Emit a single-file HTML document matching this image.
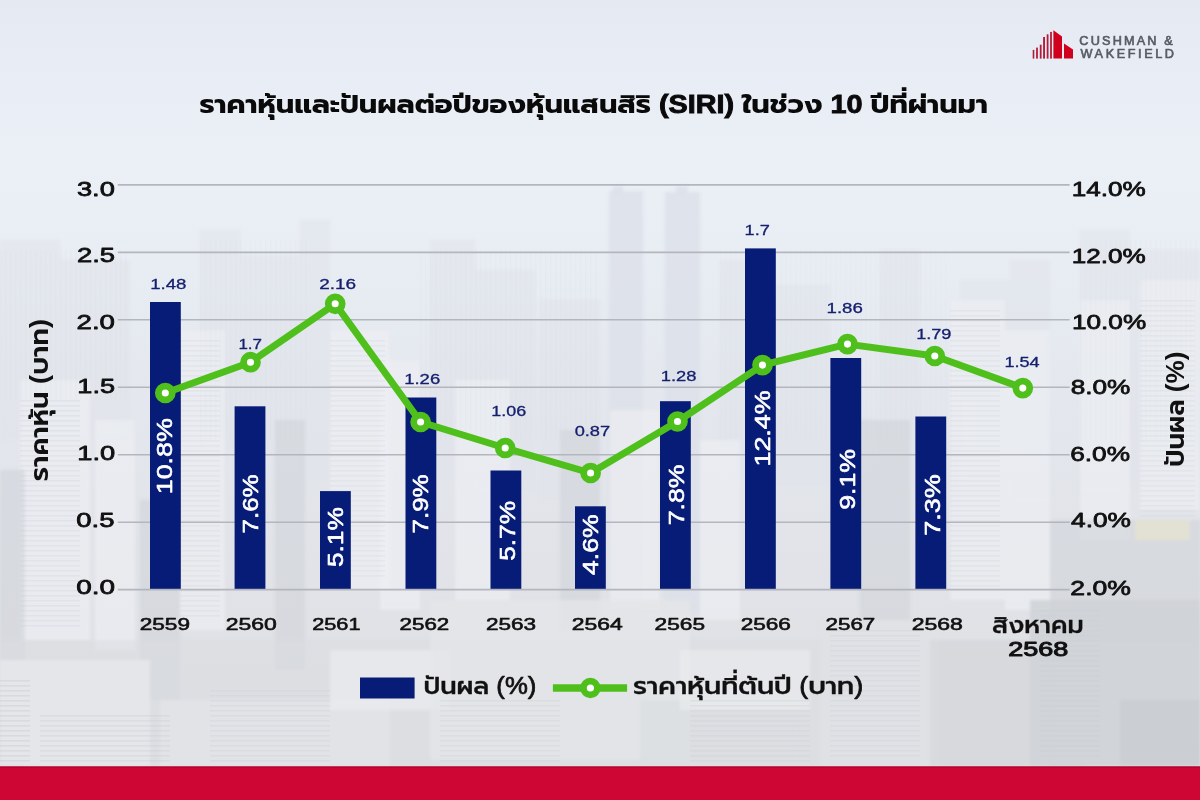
<!DOCTYPE html>
<html><head><meta charset="utf-8"><title>SIRI</title><style>html,body{margin:0;padding:0;width:1200px;height:800px;overflow:hidden;background:#e8ebf0}svg{display:block}</style></head>
<body><svg width="1200" height="800" viewBox="0 0 1200 800">
<defs>
<linearGradient id="sky" x1="0" y1="0" x2="0" y2="1">
<stop offset="0" stop-color="#e5eaf2"/>
<stop offset="0.08" stop-color="#e8ecf4"/>
<stop offset="0.2" stop-color="#ebeff6"/>
<stop offset="0.3" stop-color="#e9edf4"/>
<stop offset="0.4" stop-color="#e6eaf1"/>
<stop offset="0.55" stop-color="#e3e6ec"/>
<stop offset="0.7" stop-color="#e1e3e8"/>
<stop offset="0.85" stop-color="#dfe1e5"/>
<stop offset="1" stop-color="#dddfe3"/>
</linearGradient>
<filter id="bl" x="-5%" y="-5%" width="110%" height="110%"><feGaussianBlur stdDeviation="1.6"/></filter>
<pattern id="win" width="6" height="5" patternUnits="userSpaceOnUse"><rect width="6" height="1.6" fill="#c9ccd2"/></pattern>
<pattern id="vwin" width="5" height="6" patternUnits="userSpaceOnUse"><rect width="1.4" height="6" fill="#cfd2d8"/></pattern>
<filter id="bl3" x="-5%" y="-5%" width="110%" height="110%"><feGaussianBlur stdDeviation="0.7"/></filter>
<filter id="bl2" x="-5%" y="-5%" width="110%" height="110%"><feGaussianBlur stdDeviation="6"/></filter>
</defs>
<rect width="1200" height="800" fill="url(#sky)"/>
<g filter="url(#bl)"><rect x="609" y="191" width="34" height="420" fill="#dce0e8" opacity="0.8"/><rect x="665" y="192" width="35" height="420" fill="#dce0e8" opacity="0.8"/><rect x="613" y="186" width="10" height="8" fill="#dce0e8" opacity="0.8"/><rect x="676" y="186" width="12" height="8" fill="#dce0e8" opacity="0.8"/><rect x="0" y="240" width="60" height="200" fill="#dfe3ea" opacity="0.5"/><rect x="60" y="260" width="70" height="180" fill="#dfe3ea" opacity="0.5"/><rect x="200" y="230" width="40" height="220" fill="#dfe3ea" opacity="0.5"/><rect x="240" y="255" width="60" height="200" fill="#dfe3ea" opacity="0.5"/><rect x="300" y="220" width="30" height="260" fill="#dfe3ea" opacity="0.5"/><rect x="430" y="240" width="45" height="240" fill="#dfe3ea" opacity="0.5"/><rect x="475" y="270" width="60" height="220" fill="#dfe3ea" opacity="0.5"/><rect x="540" y="300" width="60" height="200" fill="#dfe3ea" opacity="0.5"/><rect x="720" y="260" width="40" height="220" fill="#dfe3ea" opacity="0.5"/><rect x="770" y="285" width="60" height="200" fill="#dfe3ea" opacity="0.5"/><rect x="880" y="250" width="40" height="240" fill="#dfe3ea" opacity="0.5"/><rect x="960" y="280" width="50" height="200" fill="#dfe3ea" opacity="0.5"/><rect x="1010" y="260" width="40" height="240" fill="#dfe3ea" opacity="0.5"/><rect x="1080" y="230" width="50" height="260" fill="#dfe3ea" opacity="0.5"/><rect x="1130" y="250" width="70" height="240" fill="#dfe3ea" opacity="0.5"/><rect x="20" y="380" width="70" height="260" fill="#eceef2" opacity="0.7"/><rect x="95" y="420" width="40" height="230" fill="#eceef2" opacity="0.7"/><rect x="180" y="330" width="45" height="300" fill="#eceef2" opacity="0.7"/><rect x="330" y="330" width="60" height="260" fill="#eceef2" opacity="0.7"/><rect x="380" y="360" width="40" height="250" fill="#eceef2" opacity="0.7"/><rect x="455" y="380" width="55" height="220" fill="#eceef2" opacity="0.7"/><rect x="610" y="410" width="50" height="200" fill="#eceef2" opacity="0.7"/><rect x="700" y="440" width="40" height="180" fill="#eceef2" opacity="0.7"/><rect x="950" y="300" width="55" height="300" fill="#eceef2" opacity="0.7"/><rect x="1005" y="330" width="45" height="280" fill="#eceef2" opacity="0.7"/><rect x="1080" y="300" width="50" height="240" fill="#eceef2" opacity="0.7"/><rect x="1140" y="280" width="60" height="230" fill="#eceef2" opacity="0.7"/><rect x="0" y="470" width="25" height="300" fill="#d3d6db" opacity="0.7"/><rect x="140" y="500" width="40" height="200" fill="#d3d6db" opacity="0.7"/><rect x="275" y="420" width="30" height="250" fill="#d3d6db" opacity="0.7"/><rect x="560" y="430" width="40" height="200" fill="#d3d6db" opacity="0.7"/><rect x="860" y="420" width="50" height="200" fill="#d3d6db" opacity="0.7"/><rect x="1050" y="520" width="35" height="250" fill="#d3d6db" opacity="0.7"/><rect x="1085" y="520" width="115" height="245" fill="#d3d6db" opacity="0.7"/><rect x="0" y="640" width="1200" height="126" fill="#d9dbdf" opacity="0.5"/><rect x="0" y="660" width="150" height="106" fill="#e6e7ea" opacity="0.85"/><rect x="160" y="700" width="230" height="66" fill="#e3e4e7" opacity="0.85"/><rect x="330" y="650" width="120" height="60" fill="#e9eaec" opacity="0.85"/><rect x="430" y="600" width="260" height="160" fill="#e4e5e8" opacity="0.85"/><rect x="640" y="700" width="160" height="66" fill="#dcdee1" opacity="0.85"/><rect x="680" y="650" width="130" height="60" fill="#e8e9eb" opacity="0.85"/><rect x="820" y="620" width="120" height="146" fill="#e0e2e5" opacity="0.85"/><rect x="930" y="640" width="100" height="126" fill="#d6d8dc" opacity="0.85"/><rect x="1030" y="600" width="170" height="166" fill="#cfd2d6" opacity="0.85"/><rect x="1120" y="700" width="80" height="66" fill="#c9ccd0" opacity="0.85"/><rect x="1135" y="520" width="55" height="20" fill="#e6e2cf" opacity="0.7"/></g>
<g filter="url(#bl3)"><rect x="0" y="680" width="30" height="85" fill="url(#win)" opacity="0.45"/><rect x="40" y="715" width="130" height="50" fill="url(#win)" opacity="0.35"/><rect x="210" y="690" width="120" height="75" fill="url(#win)" opacity="0.3"/><rect x="440" y="700" width="120" height="65" fill="url(#win)" opacity="0.3"/><rect x="690" y="700" width="120" height="65" fill="url(#win)" opacity="0.3"/><rect x="20" y="400" width="60" height="230" fill="url(#win)" opacity="0.25"/><rect x="180" y="340" width="40" height="280" fill="url(#win)" opacity="0.22"/><rect x="330" y="340" width="55" height="240" fill="url(#win)" opacity="0.2"/><rect x="950" y="310" width="50" height="280" fill="url(#win)" opacity="0.22"/><rect x="1140" y="300" width="55" height="220" fill="url(#win)" opacity="0.2"/><rect x="830" y="630" width="90" height="130" fill="url(#win)" opacity="0.25"/><rect x="1040" y="610" width="60" height="150" fill="url(#win)" opacity="0.25"/><rect x="0" y="250" width="130" height="150" fill="url(#vwin)" opacity="0.09"/><rect x="200" y="240" width="110" height="200" fill="url(#vwin)" opacity="0.07"/><rect x="420" y="250" width="180" height="190" fill="url(#vwin)" opacity="0.07"/><rect x="720" y="250" width="230" height="190" fill="url(#vwin)" opacity="0.06"/><rect x="1080" y="240" width="120" height="200" fill="url(#vwin)" opacity="0.08"/></g>
<line x1="117.8" y1="589.6" x2="1069.6" y2="589.6" stroke="#b3b6bd" stroke-width="1.6"/>
<line x1="117.8" y1="522.2" x2="1069.6" y2="522.2" stroke="#b3b6bd" stroke-width="1.6"/>
<line x1="117.8" y1="454.7" x2="1069.6" y2="454.7" stroke="#b3b6bd" stroke-width="1.6"/>
<line x1="117.8" y1="387.3" x2="1069.6" y2="387.3" stroke="#b3b6bd" stroke-width="1.6"/>
<line x1="117.8" y1="319.8" x2="1069.6" y2="319.8" stroke="#b3b6bd" stroke-width="1.6"/>
<line x1="117.8" y1="252.4" x2="1069.6" y2="252.4" stroke="#b3b6bd" stroke-width="1.6"/>
<line x1="117.8" y1="184.9" x2="1069.6" y2="184.9" stroke="#b3b6bd" stroke-width="1.6"/>
<rect x="150.0" y="302.0" width="30.8" height="286.8" fill="#071c76"/>
<rect x="234.6" y="406.3" width="30.8" height="182.5" fill="#071c76"/>
<rect x="320.0" y="491.1" width="30.8" height="97.7" fill="#071c76"/>
<rect x="405.5" y="397.5" width="30.8" height="191.3" fill="#071c76"/>
<rect x="490.5" y="470.5" width="30.8" height="118.3" fill="#071c76"/>
<rect x="575.0" y="506.3" width="30.8" height="82.5" fill="#071c76"/>
<rect x="660.0" y="401.2" width="30.8" height="187.6" fill="#071c76"/>
<rect x="745.0" y="248.4" width="30.8" height="340.4" fill="#071c76"/>
<rect x="830.4" y="358.0" width="30.8" height="230.8" fill="#071c76"/>
<rect x="915.4" y="416.5" width="30.8" height="172.3" fill="#071c76"/>
<polyline points="165.3,393.0 250.5,362.2 335.2,303.8 420.6,422.0 505.2,448.0 590.6,473.0 677.5,421.5 762.5,365.1 847.5,344.1 934.8,356.0 1022.8,388.1" fill="none" stroke="#4fbf1c" stroke-width="7" stroke-linejoin="round"/>
<circle cx="165.3" cy="393.0" r="6.95" fill="#fff" stroke="#4fbf1c" stroke-width="6.8"/>
<circle cx="250.5" cy="362.2" r="6.95" fill="#fff" stroke="#4fbf1c" stroke-width="6.8"/>
<circle cx="335.2" cy="303.8" r="6.95" fill="#fff" stroke="#4fbf1c" stroke-width="6.8"/>
<circle cx="420.6" cy="422.0" r="6.95" fill="#fff" stroke="#4fbf1c" stroke-width="6.8"/>
<circle cx="505.2" cy="448.0" r="6.95" fill="#fff" stroke="#4fbf1c" stroke-width="6.8"/>
<circle cx="590.6" cy="473.0" r="6.95" fill="#fff" stroke="#4fbf1c" stroke-width="6.8"/>
<circle cx="677.5" cy="421.5" r="6.95" fill="#fff" stroke="#4fbf1c" stroke-width="6.8"/>
<circle cx="762.5" cy="365.1" r="6.95" fill="#fff" stroke="#4fbf1c" stroke-width="6.8"/>
<circle cx="847.5" cy="344.1" r="6.95" fill="#fff" stroke="#4fbf1c" stroke-width="6.8"/>
<circle cx="934.8" cy="356.0" r="6.95" fill="#fff" stroke="#4fbf1c" stroke-width="6.8"/>
<circle cx="1022.8" cy="388.1" r="6.95" fill="#fff" stroke="#4fbf1c" stroke-width="6.8"/>
<rect x="360" y="677.5" width="54.6" height="21" fill="#071c76"/>
<line x1="552.9" y1="688" x2="627.1" y2="688" stroke="#4fbf1c" stroke-width="7.5"/>
<circle cx="590.4" cy="688" r="6.9" fill="#fff" stroke="#4fbf1c" stroke-width="6.6"/>
<rect x="0" y="766.5" width="1200" height="33.5" fill="#cd0633"/><rect x="0" y="766.5" width="1200" height="1.2" fill="#b0052e"/>
<g fill="#b31c3a">
<rect x="1032.7" y="49.9" width="1.6" height="8.7"/><rect x="1036.1" y="47.6" width="1.8" height="11"/>
<rect x="1039.8" y="44.7" width="1.8" height="13.9"/><rect x="1043.1" y="37.0" width="1.9" height="21.6"/>
<rect x="1046.7" y="34.3" width="1.8" height="24.3"/><rect x="1050.1" y="31.9" width="1.8" height="26.7"/></g>
<g fill="#d1001f"><polygon points="1053.4,30.3 1062,36.6 1062,58.6 1053.4,58.6"/><polygon points="1064,43.6 1073,49.4 1073,58.6 1064,58.6"/></g>
<text x="150.20" y="288.78" font-size="14.30" font-weight="400" fill="#16206e" font-family="Liberation Sans, Arial, sans-serif" stroke="#16206e" stroke-width="0.3" stroke-linejoin="round" textLength="36.29" lengthAdjust="spacingAndGlyphs">1.48</text>
<text x="238.45" y="348.62" font-size="14.30" font-weight="400" fill="#16206e" font-family="Liberation Sans, Arial, sans-serif" stroke="#16206e" stroke-width="0.3" stroke-linejoin="round" textLength="23.58" lengthAdjust="spacingAndGlyphs">1.7</text>
<text x="319.18" y="288.78" font-size="14.30" font-weight="400" fill="#16206e" font-family="Liberation Sans, Arial, sans-serif" stroke="#16206e" stroke-width="0.3" stroke-linejoin="round" textLength="36.88" lengthAdjust="spacingAndGlyphs">2.16</text>
<text x="404.20" y="383.64" font-size="14.30" font-weight="400" fill="#16206e" font-family="Liberation Sans, Arial, sans-serif" stroke="#16206e" stroke-width="0.3" stroke-linejoin="round" textLength="36.00" lengthAdjust="spacingAndGlyphs">1.26</text>
<text x="491.20" y="415.84" font-size="14.30" font-weight="400" fill="#16206e" font-family="Liberation Sans, Arial, sans-serif" stroke="#16206e" stroke-width="0.3" stroke-linejoin="round" textLength="34.93" lengthAdjust="spacingAndGlyphs">1.06</text>
<text x="574.68" y="435.98" font-size="14.30" font-weight="400" fill="#16206e" font-family="Liberation Sans, Arial, sans-serif" stroke="#16206e" stroke-width="0.3" stroke-linejoin="round" textLength="35.45" lengthAdjust="spacingAndGlyphs">0.87</text>
<text x="660.69" y="380.70" font-size="14.30" font-weight="400" fill="#16206e" font-family="Liberation Sans, Arial, sans-serif" stroke="#16206e" stroke-width="0.3" stroke-linejoin="round" textLength="35.73" lengthAdjust="spacingAndGlyphs">1.28</text>
<text x="744.55" y="234.68" font-size="14.30" font-weight="400" fill="#16206e" font-family="Liberation Sans, Arial, sans-serif" stroke="#16206e" stroke-width="0.3" stroke-linejoin="round" textLength="25.29" lengthAdjust="spacingAndGlyphs">1.7</text>
<text x="826.52" y="313.16" font-size="14.30" font-weight="400" fill="#16206e" font-family="Liberation Sans, Arial, sans-serif" stroke="#16206e" stroke-width="0.3" stroke-linejoin="round" textLength="36.34" lengthAdjust="spacingAndGlyphs">1.86</text>
<text x="916.20" y="339.08" font-size="14.30" font-weight="400" fill="#16206e" font-family="Liberation Sans, Arial, sans-serif" stroke="#16206e" stroke-width="0.3" stroke-linejoin="round" textLength="35.25" lengthAdjust="spacingAndGlyphs">1.79</text>
<text x="1004.48" y="366.86" font-size="14.30" font-weight="400" fill="#16206e" font-family="Liberation Sans, Arial, sans-serif" stroke="#16206e" stroke-width="0.3" stroke-linejoin="round" textLength="35.18" lengthAdjust="spacingAndGlyphs">1.54</text>
<text transform="translate(172.47,494.30) rotate(-90)" font-size="22.80" font-weight="400" fill="#fff" font-family="Liberation Sans, Arial, sans-serif" stroke="#fff" stroke-width="0.6" stroke-linejoin="round" textLength="76.14" lengthAdjust="spacingAndGlyphs">10.8%</text>
<text transform="translate(258.09,533.50) rotate(-90)" font-size="22.80" font-weight="400" fill="#fff" font-family="Liberation Sans, Arial, sans-serif" stroke="#fff" stroke-width="0.6" stroke-linejoin="round" textLength="59.14" lengthAdjust="spacingAndGlyphs">7.6%</text>
<text transform="translate(342.61,567.09) rotate(-90)" font-size="22.80" font-weight="400" fill="#fff" font-family="Liberation Sans, Arial, sans-serif" stroke="#fff" stroke-width="0.6" stroke-linejoin="round" textLength="59.95" lengthAdjust="spacingAndGlyphs">5.1%</text>
<text transform="translate(427.61,533.50) rotate(-90)" font-size="22.80" font-weight="400" fill="#fff" font-family="Liberation Sans, Arial, sans-serif" stroke="#fff" stroke-width="0.6" stroke-linejoin="round" textLength="59.14" lengthAdjust="spacingAndGlyphs">7.9%</text>
<text transform="translate(514.69,560.80) rotate(-90)" font-size="22.80" font-weight="400" fill="#fff" font-family="Liberation Sans, Arial, sans-serif" stroke="#fff" stroke-width="0.6" stroke-linejoin="round" textLength="59.87" lengthAdjust="spacingAndGlyphs">5.7%</text>
<text transform="translate(598.28,575.00) rotate(-90)" font-size="22.80" font-weight="400" fill="#fff" font-family="Liberation Sans, Arial, sans-serif" stroke="#fff" stroke-width="0.6" stroke-linejoin="round" textLength="60.64" lengthAdjust="spacingAndGlyphs">4.6%</text>
<text transform="translate(683.95,525.32) rotate(-90)" font-size="22.80" font-weight="400" fill="#fff" font-family="Liberation Sans, Arial, sans-serif" stroke="#fff" stroke-width="0.6" stroke-linejoin="round" textLength="60.96" lengthAdjust="spacingAndGlyphs">7.8%</text>
<text transform="translate(769.75,466.60) rotate(-90)" font-size="22.80" font-weight="400" fill="#fff" font-family="Liberation Sans, Arial, sans-serif" stroke="#fff" stroke-width="0.6" stroke-linejoin="round" textLength="76.41" lengthAdjust="spacingAndGlyphs">12.4%</text>
<text transform="translate(855.20,509.80) rotate(-90)" font-size="22.80" font-weight="400" fill="#fff" font-family="Liberation Sans, Arial, sans-serif" stroke="#fff" stroke-width="0.6" stroke-linejoin="round" textLength="60.85" lengthAdjust="spacingAndGlyphs">9.1%</text>
<text transform="translate(939.51,535.79) rotate(-90)" font-size="22.80" font-weight="400" fill="#fff" font-family="Liberation Sans, Arial, sans-serif" stroke="#fff" stroke-width="0.6" stroke-linejoin="round" textLength="61.61" lengthAdjust="spacingAndGlyphs">7.3%</text>
<text x="139.67" y="630.36" font-size="16.80" font-weight="400" fill="#111" font-family="Liberation Sans, Arial, sans-serif" stroke="#111" stroke-width="0.6" stroke-linejoin="round" textLength="50.33" lengthAdjust="spacingAndGlyphs">2559</text>
<text x="225.65" y="630.36" font-size="16.80" font-weight="400" fill="#111" font-family="Liberation Sans, Arial, sans-serif" stroke="#111" stroke-width="0.6" stroke-linejoin="round" textLength="51.11" lengthAdjust="spacingAndGlyphs">2560</text>
<text x="312.16" y="630.36" font-size="16.80" font-weight="400" fill="#111" font-family="Liberation Sans, Arial, sans-serif" stroke="#111" stroke-width="0.6" stroke-linejoin="round" textLength="48.32" lengthAdjust="spacingAndGlyphs">2561</text>
<text x="399.55" y="630.36" font-size="16.80" font-weight="400" fill="#111" font-family="Liberation Sans, Arial, sans-serif" stroke="#111" stroke-width="0.6" stroke-linejoin="round" textLength="49.71" lengthAdjust="spacingAndGlyphs">2562</text>
<text x="486.05" y="630.36" font-size="16.80" font-weight="400" fill="#111" font-family="Liberation Sans, Arial, sans-serif" stroke="#111" stroke-width="0.6" stroke-linejoin="round" textLength="50.11" lengthAdjust="spacingAndGlyphs">2563</text>
<text x="571.85" y="630.36" font-size="16.80" font-weight="400" fill="#111" font-family="Liberation Sans, Arial, sans-serif" stroke="#111" stroke-width="0.6" stroke-linejoin="round" textLength="51.03" lengthAdjust="spacingAndGlyphs">2564</text>
<text x="654.54" y="630.36" font-size="16.80" font-weight="400" fill="#111" font-family="Liberation Sans, Arial, sans-serif" stroke="#111" stroke-width="0.6" stroke-linejoin="round" textLength="50.48" lengthAdjust="spacingAndGlyphs">2565</text>
<text x="740.67" y="630.36" font-size="16.80" font-weight="400" fill="#111" font-family="Liberation Sans, Arial, sans-serif" stroke="#111" stroke-width="0.6" stroke-linejoin="round" textLength="50.30" lengthAdjust="spacingAndGlyphs">2566</text>
<text x="825.55" y="630.36" font-size="16.80" font-weight="400" fill="#111" font-family="Liberation Sans, Arial, sans-serif" stroke="#111" stroke-width="0.6" stroke-linejoin="round" textLength="49.71" lengthAdjust="spacingAndGlyphs">2567</text>
<text x="911.65" y="630.36" font-size="16.80" font-weight="400" fill="#111" font-family="Liberation Sans, Arial, sans-serif" stroke="#111" stroke-width="0.6" stroke-linejoin="round" textLength="51.29" lengthAdjust="spacingAndGlyphs">2568</text>
<text x="76.97" y="195.60" font-size="21.00" font-weight="400" fill="#111" font-family="Liberation Sans, Arial, sans-serif" stroke="#111" stroke-width="0.8" stroke-linejoin="round" textLength="37.86" lengthAdjust="spacingAndGlyphs">3.0</text>
<text x="76.98" y="261.70" font-size="21.00" font-weight="400" fill="#111" font-family="Liberation Sans, Arial, sans-serif" stroke="#111" stroke-width="0.8" stroke-linejoin="round" textLength="38.06" lengthAdjust="spacingAndGlyphs">2.5</text>
<text x="76.54" y="329.05" font-size="21.00" font-weight="400" fill="#111" font-family="Liberation Sans, Arial, sans-serif" stroke="#111" stroke-width="0.8" stroke-linejoin="round" textLength="38.38" lengthAdjust="spacingAndGlyphs">2.0</text>
<text x="77.38" y="393.32" font-size="21.00" font-weight="400" fill="#111" font-family="Liberation Sans, Arial, sans-serif" stroke="#111" stroke-width="0.8" stroke-linejoin="round" textLength="37.71" lengthAdjust="spacingAndGlyphs">1.5</text>
<text x="77.38" y="460.08" font-size="21.00" font-weight="400" fill="#111" font-family="Liberation Sans, Arial, sans-serif" stroke="#111" stroke-width="0.8" stroke-linejoin="round" textLength="37.93" lengthAdjust="spacingAndGlyphs">1.0</text>
<text x="76.32" y="526.58" font-size="21.00" font-weight="400" fill="#111" font-family="Liberation Sans, Arial, sans-serif" stroke="#111" stroke-width="0.8" stroke-linejoin="round" textLength="38.19" lengthAdjust="spacingAndGlyphs">0.5</text>
<text x="76.35" y="594.46" font-size="21.00" font-weight="400" fill="#111" font-family="Liberation Sans, Arial, sans-serif" stroke="#111" stroke-width="0.8" stroke-linejoin="round" textLength="38.75" lengthAdjust="spacingAndGlyphs">0.0</text>
<text x="1071.71" y="195.84" font-size="21.00" font-weight="400" fill="#111" font-family="Liberation Sans, Arial, sans-serif" stroke="#111" stroke-width="0.8" stroke-linejoin="round" textLength="73.98" lengthAdjust="spacingAndGlyphs">14.0%</text>
<text x="1071.71" y="262.60" font-size="21.00" font-weight="400" fill="#111" font-family="Liberation Sans, Arial, sans-serif" stroke="#111" stroke-width="0.8" stroke-linejoin="round" textLength="73.98" lengthAdjust="spacingAndGlyphs">12.0%</text>
<text x="1072.04" y="329.20" font-size="21.00" font-weight="400" fill="#111" font-family="Liberation Sans, Arial, sans-serif" stroke="#111" stroke-width="0.8" stroke-linejoin="round" textLength="74.11" lengthAdjust="spacingAndGlyphs">10.0%</text>
<text x="1070.67" y="393.74" font-size="21.00" font-weight="400" fill="#111" font-family="Liberation Sans, Arial, sans-serif" stroke="#111" stroke-width="0.8" stroke-linejoin="round" textLength="59.64" lengthAdjust="spacingAndGlyphs">8.0%</text>
<text x="1070.27" y="460.60" font-size="21.00" font-weight="400" fill="#111" font-family="Liberation Sans, Arial, sans-serif" stroke="#111" stroke-width="0.8" stroke-linejoin="round" textLength="59.73" lengthAdjust="spacingAndGlyphs">6.0%</text>
<text x="1071.06" y="527.24" font-size="21.00" font-weight="400" fill="#111" font-family="Liberation Sans, Arial, sans-serif" stroke="#111" stroke-width="0.8" stroke-linejoin="round" textLength="59.84" lengthAdjust="spacingAndGlyphs">4.0%</text>
<text x="1070.39" y="594.60" font-size="21.00" font-weight="400" fill="#111" font-family="Liberation Sans, Arial, sans-serif" stroke="#111" stroke-width="0.8" stroke-linejoin="round" textLength="60.55" lengthAdjust="spacingAndGlyphs">2.0%</text>
<text x="1008.22" y="656.46" font-size="19.50" font-weight="400" fill="#111" font-family="Liberation Sans, Arial, sans-serif" stroke="#111" stroke-width="1.0" stroke-linejoin="round" textLength="60.03" lengthAdjust="spacingAndGlyphs">2568</text>
<text x="1079.37" y="45.25" font-size="12.70" font-weight="400" fill="#575c64" font-family="Liberation Sans, Arial, sans-serif" stroke="#575c64" stroke-width="0.65" stroke-linejoin="round" textLength="93.45" lengthAdjust="spacing">CUSHMAN &amp;</text>
<text x="1080.51" y="58.00" font-size="12.70" font-weight="400" fill="#575c64" font-family="Liberation Sans, Arial, sans-serif" stroke="#575c64" stroke-width="0.65" stroke-linejoin="round" textLength="93.47" lengthAdjust="spacing">WAKEFIELD</text>
<text x="199.41" y="113.20" font-size="26.00" font-weight="700" fill="#0a0a0a" font-family="Liberation Sans, Prompt, Kanit, Noto Sans Thai, Noto Sans Thai UI, Loma, Garuda, sans-serif" textLength="788.57" lengthAdjust="spacingAndGlyphs">ราคาหุ้นและปันผลต่อปีของหุ้นแสนสิริ <tspan stroke="#0a0a0a" stroke-width="0.9">(SIRI)</tspan> ในช่วง <tspan stroke="#0a0a0a" stroke-width="0.9">10</tspan> ปีที่ผ่านมา</text>
<text x="992.01" y="632.90" font-size="24.00" font-weight="500" fill="#111" font-family="Liberation Sans, Prompt, Kanit, Noto Sans Thai, Noto Sans Thai UI, Loma, Garuda, sans-serif" stroke="#111" stroke-width="0.3" stroke-linejoin="round" textLength="91.57" lengthAdjust="spacingAndGlyphs">สิงหาคม</text>
<text x="423.43" y="694.10" font-size="23.00" font-weight="500" fill="#111" font-family="Liberation Sans, Prompt, Kanit, Noto Sans Thai, Noto Sans Thai UI, Loma, Garuda, sans-serif" stroke="#111" stroke-width="0.35" stroke-linejoin="round" textLength="113.00" lengthAdjust="spacingAndGlyphs">ปันผล <tspan stroke="#111" stroke-width="0.7">(%)</tspan></text>
<text x="633.02" y="693.80" font-size="23.00" font-weight="500" fill="#111" font-family="Liberation Sans, Prompt, Kanit, Noto Sans Thai, Noto Sans Thai UI, Loma, Garuda, sans-serif" stroke="#111" stroke-width="0.35" stroke-linejoin="round" textLength="230.26" lengthAdjust="spacingAndGlyphs">ราคาหุ้นที่ต้นปี <tspan stroke="#111" stroke-width="0.7">(</tspan>บาท<tspan stroke="#111" stroke-width="0.7">)</tspan></text>
<text transform="translate(48.30,481.31) rotate(-90)" font-size="25.30" font-weight="600" fill="#111" font-family="Liberation Sans, Prompt, Kanit, Noto Sans Thai, Noto Sans Thai UI, Loma, Garuda, sans-serif" textLength="162.34" lengthAdjust="spacingAndGlyphs">ราคาหุ้น (บาท)</text>
<text transform="translate(1184.00,466.66) rotate(-90)" font-size="25.80" font-weight="600" fill="#111" font-family="Liberation Sans, Prompt, Kanit, Noto Sans Thai, Noto Sans Thai UI, Loma, Garuda, sans-serif" textLength="115.05" lengthAdjust="spacingAndGlyphs">ปันผล (%)</text>
</svg></body></html>
